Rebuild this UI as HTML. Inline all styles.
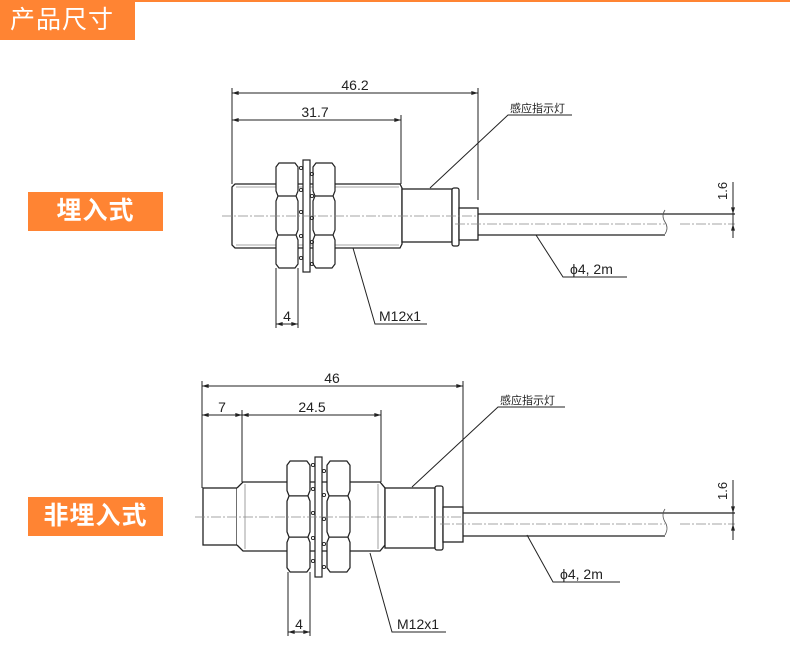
<!DOCTYPE html>
<html><head><meta charset="utf-8"><style>
html,body{margin:0;padding:0;background:#fff;}
body{width:790px;height:658px;position:relative;overflow:hidden;font-family:"Liberation Sans","Noto Sans CJK SC",sans-serif;}
.hdr{position:absolute;left:0;top:0;width:135px;height:40px;background:#ff8433;color:#fff;font-size:25px;line-height:40px;text-indent:10px;letter-spacing:1px;}
.topline{position:absolute;left:0;top:0;width:790px;height:2px;background:#ff8433;}
.lbl{position:absolute;left:28px;width:135px;height:39px;background:#ff8433;color:#fff;font-size:25px;line-height:39px;text-align:center;font-weight:bold;letter-spacing:1px;}
svg{position:absolute;left:0;top:0;}
</style></head><body>
<div class="topline"></div>
<div class="hdr">产品尺寸</div>
<div class="lbl" style="top:192px">埋入式</div>
<div class="lbl" style="top:497px">非埋入式</div>
<svg width="790" height="658" viewBox="0 0 790 658" xmlns="http://www.w3.org/2000/svg" font-family="Liberation Sans, Noto Sans CJK SC, sans-serif">
<defs>
<symbol id="nut" viewBox="0 0 22 105" width="22" height="105" overflow="visible">
<path d="M3,0 L19,0 L22,4 L22,28 L20,33 L22,38 L22,67 L20,72 L22,77 L22,101 L19,105 L3,105 L0,101 L0,77 L2,72 L0,67 L0,38 L2,33 L0,28 L0,4 Z M2,33 H20 M2,72 H20" fill="#fff" stroke="#222" stroke-width="1.2"/>
</symbol>
<marker id="ar" viewBox="0 0 10 6" refX="10" refY="3" markerWidth="8" markerHeight="4" orient="auto-start-reverse"><path d="M0,0 L10,3 L0,6 Z" fill="#222"/></marker>
</defs>
<g stroke="#222" stroke-width="1" fill="none">
<!-- ===== Diagram 1 ===== -->
<!-- extension lines -->
<path d="M232,88 V184 M401,115 V184 M478,88 V200 M276,268 V328 M298,268 V328"/>
<path d="M232,93 H478" marker-start="url(#ar)" marker-end="url(#ar)"/>
<path d="M232,120 H401" marker-start="url(#ar)" marker-end="url(#ar)"/>
<path d="M276,324 H298" marker-start="url(#ar)" marker-end="url(#ar)"/>
<!-- body -->
<path d="M235,184 H400 L402,188 V244 L400,248 H235 L232,245 V187 Z" fill="#fff" stroke-width="1.3"/>
<path d="M236,187 H399 M236,245 H399" stroke="#888" stroke-width="0.8"/>
<!-- neck, flange, cap -->
<rect x="402" y="189" width="50" height="53" fill="#fff" stroke-width="1.3"/>
<rect x="452" y="188" width="7" height="58" rx="2" fill="#fff" stroke-width="1.3"/>
<rect x="459" y="208" width="19" height="32" fill="#fff" stroke-width="1.3"/>
<!-- cable -->
<path d="M478,214 H665 M478,235 H665 M735,214 H665" stroke-width="1.3"/>
<path d="M665,210 q-4,6 0,12 q4,6 0,12" stroke="#555" stroke-width="0.8"/>
<!-- nuts + washer -->
<use href="#nut" x="276" y="163"/>
<use href="#nut" x="313" y="163"/>
<rect x="303" y="160" width="7" height="112" fill="#fff" stroke-width="1.2"/>
<g stroke-width="0.9">
<circle cx="301" cy="168" r="1.6"/><circle cx="301" cy="190" r="1.6"/><circle cx="301" cy="212" r="1.6"/><circle cx="301" cy="236" r="1.6"/><circle cx="301" cy="258" r="1.6"/>
<circle cx="312" cy="174" r="1.6"/><circle cx="312" cy="196" r="1.6"/><circle cx="312" cy="218" r="1.6"/><circle cx="312" cy="242" r="1.6"/><circle cx="312" cy="264" r="1.6"/>
</g>
<!-- centerlines -->
<path d="M222,216 H478 M455,224 H665 M680,224 H735" stroke="#888" stroke-width="0.8" stroke-dasharray="10,2,2,2"/>
<!-- 1.6 dim -->
<path d="M733,182 V236"/>
<path d="M733,200 V214" marker-end="url(#ar)"/>
<path d="M733,238 V224" marker-end="url(#ar)"/>
<!-- leaders -->
<path d="M430,188 L508,115 H572"/>
<path d="M536,235 L563,277 H627"/>
<path d="M353,248 L375,324 H427"/>
<!-- ===== Diagram 2 ===== -->
<path d="M202,381 V488 M242,410 V482 M381,410 V482 M463,381 V507 M288,572 V636 M310,572 V636"/>
<path d="M202,386 H463" marker-start="url(#ar)" marker-end="url(#ar)"/>
<path d="M202,415 H242" marker-start="url(#ar)" marker-end="url(#ar)"/>
<path d="M242,415 H381" marker-start="url(#ar)" marker-end="url(#ar)"/>
<path d="M288,632 H310" marker-start="url(#ar)" marker-end="url(#ar)"/>
<rect x="203" y="488" width="34" height="57" fill="#fff" stroke-width="1.3"/>
<path d="M237,488 L243,482 H380 L385,488 V545 L380,551 H243 L237,545" fill="#fff" stroke-width="1.3"/>
<path d="M245,484 V549 M378,484 V549" stroke="#888" stroke-width="0.8"/>
<rect x="385" y="488" width="50" height="60" fill="#fff" stroke-width="1.3"/>
<rect x="435" y="486" width="8" height="64" rx="2" fill="#fff" stroke-width="1.3"/>
<rect x="443" y="507" width="20" height="35" fill="#fff" stroke-width="1.3"/>
<path d="M463,513 H665 M463,536 H665 M735,513 H665" stroke-width="1.3"/>
<path d="M665,509 q-4,6 0,13 q4,6 0,13" stroke="#555" stroke-width="0.8"/>
<use href="#nut" x="0" y="0" transform="translate(287,461) scale(1.045,1.057)"/>
<use href="#nut" x="0" y="0" transform="translate(327,461) scale(1.045,1.057)"/>
<rect x="315" y="457" width="7" height="120" fill="#fff" stroke-width="1.2"/>
<g stroke-width="0.9">
<circle cx="313" cy="465" r="1.6"/><circle cx="313" cy="489" r="1.6"/><circle cx="313" cy="513" r="1.6"/><circle cx="313" cy="538" r="1.6"/><circle cx="313" cy="561" r="1.6"/>
<circle cx="324" cy="471" r="1.6"/><circle cx="324" cy="495" r="1.6"/><circle cx="324" cy="519" r="1.6"/><circle cx="324" cy="544" r="1.6"/><circle cx="324" cy="567" r="1.6"/>
</g>
<path d="M195,517 H463 M440,524 H665 M680,524 H735" stroke="#888" stroke-width="0.8" stroke-dasharray="10,2,2,2"/>
<path d="M733,480 V540"/>
<path d="M733,499 V513" marker-end="url(#ar)"/>
<path d="M733,538 V524" marker-end="url(#ar)"/>
<path d="M412,487 L498,407 H565"/>
<path d="M527,535 L553,582 H620"/>
<path d="M370,553 L392,632 H446"/>
</g>
<g fill="#222" font-size="14">
<text x="355" y="90" text-anchor="middle">46.2</text>
<text x="315" y="117" text-anchor="middle">31.7</text>
<text x="287" y="321" text-anchor="middle">4</text>
<text x="379" y="321">M12x1</text>
<text x="570" y="274">ϕ4, 2m</text>
<text x="727" y="200" transform="rotate(-90 727 200)" font-size="13">1.6</text>
<text x="510" y="112" font-size="11">感应指示灯</text>
<text x="332" y="383" text-anchor="middle">46</text>
<text x="222" y="412" text-anchor="middle">7</text>
<text x="312" y="412" text-anchor="middle">24.5</text>
<text x="299" y="629" text-anchor="middle">4</text>
<text x="397" y="629">M12x1</text>
<text x="560" y="579">ϕ4, 2m</text>
<text x="727" y="500" transform="rotate(-90 727 500)" font-size="13">1.6</text>
<text x="500" y="404" font-size="11">感应指示灯</text>
</g>
</svg>
</body></html>
